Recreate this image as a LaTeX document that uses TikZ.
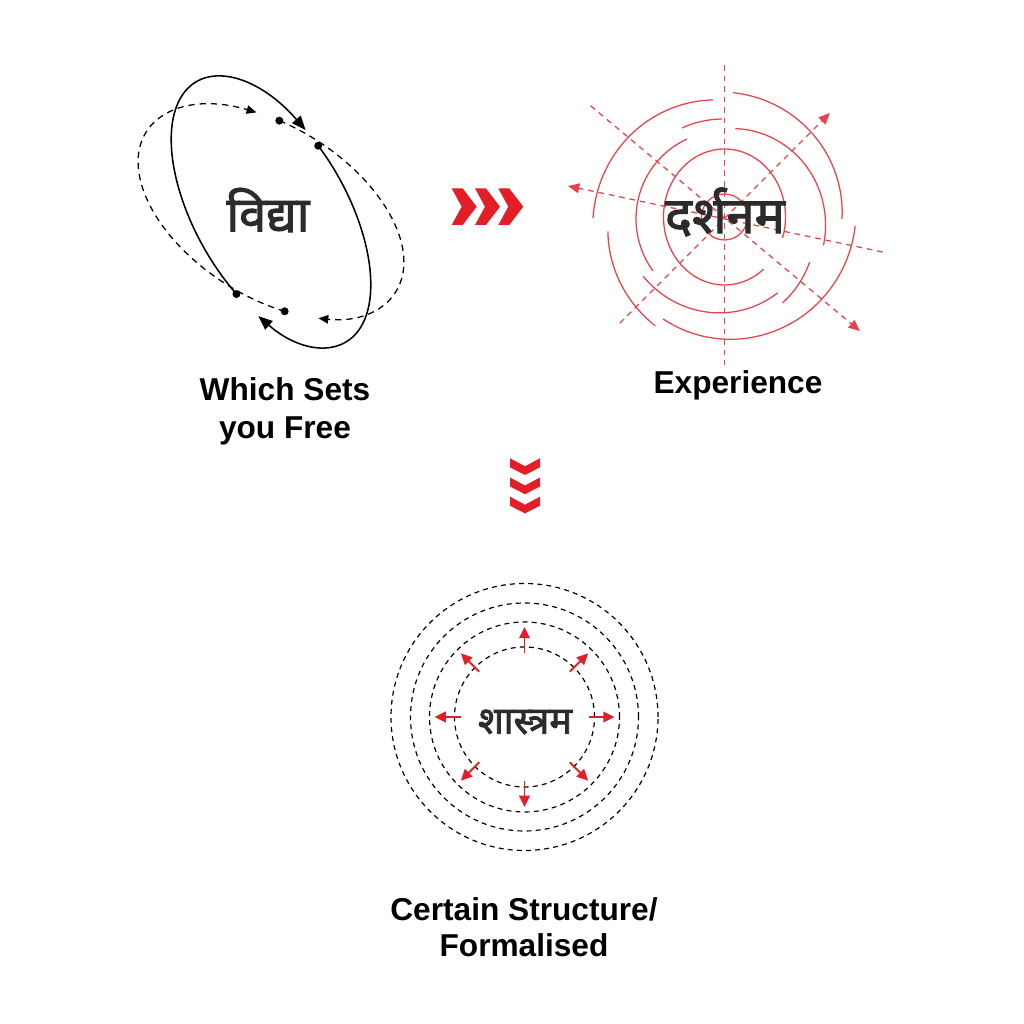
\documentclass[tikz,border=0pt]{standalone}
\usepackage{fontspec}
\usetikzlibrary{arrows.meta}
\newfontfamily\devfont[Script=Devanagari, FakeBold=2.2]{Noto Sans}
\newfontfamily\labelfont{Liberation Sans}
\definecolor{ink}{HTML}{2B2B2B}
\definecolor{ripple}{HTML}{E8434B}
\definecolor{chevred}{HTML}{E31E26}

\begin{document}
\begin{tikzpicture}[x=0.025cm, y=0.025cm,
	orbit/.style={line width=1.1pt},
	orbit dash/.style={line width=0.9pt, dash pattern=on 4.5pt off 3.5pt},
	ring/.style={ripple, line width=0.9pt},
	ray/.style={ripple, line width=0.9pt, dash pattern=on 4pt off 3.5pt},
	shell/.style={line width=0.85pt, dash pattern=on 3.5pt off 3pt},
	push/.style={chevred, line width=1.3pt, -{Triangle[length=8pt,width=7.5pt]}},
	chev/.style={fill=chevred},
	word/.style={text=ink, inner sep=0pt},
	caption/.style={font=\labelfont\bfseries\fontsize{22.5}{27.7}\selectfont, align=center, inner sep=0pt}]

	\fill[white] (0,0) rectangle (1024,1024);
	\useasboundingbox (0,0) rectangle (1024,1024);

	% vidya: two crossing orbits
	\coordinate (V) at (271,812);
	\begin{scope}[shift={(V)}, rotate=-60]
	  \coordinate (v1) at (103:150 and 76);
	  \coordinate (v2) at (-69:150 and 76);
	  \draw[orbit, -{Triangle[length=10pt,width=8pt]}] (v1) arc[start angle=103, end angle=-56, x radius=150, y radius=76];
	  \draw[orbit, -{Triangle[length=10pt,width=8pt]}] (v2) arc[start angle=-69, end angle=-249, x radius=150, y radius=76];
	\end{scope}
	\begin{scope}[shift={(V)}, rotate=-32.5]
	  \coordinate (v3) at (106.5:148 and 85);
	  \coordinate (v4) at (-64:148 and 85);
	  \draw[orbit dash, -{Triangle[length=7pt,width=6pt]}] (v3) arc[start angle=106.5, end angle=-49, x radius=148, y radius=85];
	  \draw[orbit dash, -{Triangle[length=7pt,width=6pt]}] (v4) arc[start angle=-64, end angle=-243.6, x radius=148, y radius=85];
	\end{scope}
	\foreach \d in {v1,v2,v3,v4}
	  \fill (\d) circle[radius=4];
	\node[word, font=\devfont\fontsize{34.5}{40}\selectfont] (vidya) at (268,814) {विद्या};

	% arrows to darshanam
	\foreach \cx in {451.7,475,498.3}
	  \fill[chev] (\cx,835.6) -- ++(11,0) -- ++(14,-18.3) -- ++(-14,-18.3) -- ++(-11,0) -- ++(10,18.3) -- cycle;

	% darshanam: broken ripples and rays
	\coordinate (D) at (724.5,807);
	\draw[ring] (D) circle[radius=23];
	\begin{scope}[shift={(D)}]
	  \draw[ring] (-18:61 and 68) arc[start angle=-18, end angle=310, x radius=61, y radius=68];
	  \foreach \ta/\tb/\ra/\rb in {95.6/180.5/117.6/131.5, 187/237.5/117.5/129, 239/356/119/131,
	      -1/86/117.5/124.6, -16/83/103/89, 91.5/115.5/98/98.6, 115.7/217/86.5/89.6,
	      216/305/100.6/92.6, 304/332/103.7/96.3}
	    \draw[ring] plot[domain=\ta:\tb, samples=40] (\x:{\ra+(\rb-\ra)*(\x-\ta)/(\tb-\ta)});
	\end{scope}
	\draw[ray] ([shift={(90:152)}]D) -- ([shift={(-90:148)}]D);
	\foreach \p/\q/\lp/\lq in {140.3/-40.1/174/177, -134.6/44.6/149/148, -12.5/168.8/162/159.5}
	  \draw[ray, -{Triangle[length=8pt,width=7pt]}] ([shift={(\p:\lp)}]D) -- ([shift={(\q:\lq)}]D);
	\node[word, font=\devfont\fontsize{36}{42}\selectfont] (darshanam) at (725,812) {दर्शनम};

	% arrows to shastram
	\foreach \cy in {565.7,546.5,527.3}
	  \fill[chev] (510,\cy) -- ++(0,-9) -- ++(15,-7.7) -- ++(15,7.7) -- ++(0,9) -- ++(-15,-8) -- cycle;

	% shastram: dashed shells pushed outward
	\coordinate (S) at (524.5,307);
	\foreach \r in {70,95,114,133.5}
	  \draw[shell] (S) circle[radius=\r];
	\foreach \t in {0,45,...,315}
	  \draw[push] ([shift={(\t:64)}]S) -- ([shift={(\t:90)}]S);
	\node[word, font=\devfont\fontsize{27}{32}\selectfont] (shastram) at (525,302) {शास्त्रम};

	% captions
	\node[caption, anchor=base] (free) at (285,585) {Which Sets\\you Free};
	\node[caption, anchor=base] (experience) at (738,630) {Experience};
	\node[caption, font=\labelfont\bfseries\fontsize{22.5}{25.4}\selectfont, anchor=base] (formal) at (524,67.3) {Certain Structure/\\Formalised};
\end{tikzpicture}
\end{document}
